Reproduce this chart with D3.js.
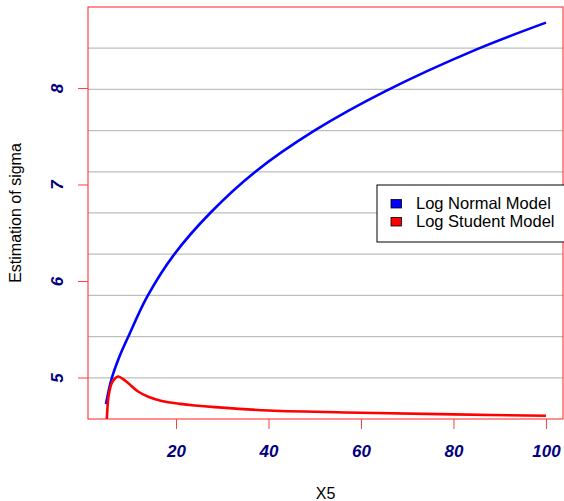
<!DOCTYPE html>
<html><head><meta charset="utf-8">
<script src="https://cdn.jsdelivr.net/npm/d3@7"></script>
<style>body{margin:0;background:#fff;overflow:hidden}</style>
</head><body>
<svg id="chart" width="564" height="501"></svg>
<script>
// ---- data ----
const xTicks = [20, 40, 60, 80, 100];
const yTicks = [5, 6, 7, 8];
const gridValues = [4.997, 5.424, 5.851, 6.278, 6.705, 7.131, 7.558, 7.985, 8.412];
const normalX = [4.86, 6.1, 7.8, 9.7, 13.8, 19.6, 27.5, 37.1, 50, 65.2, 85, 100];
const normalY = [4.725, 4.99, 5.22, 5.425, 5.84, 6.275, 6.71, 7.13, 7.56, 7.965, 8.40, 8.677];
const studentX = [4.86, 5.1, 5.4, 6.1, 6.8, 7.5, 8.5, 9.7, 11.8, 14, 16.9, 20.9, 24.1, 28.4, 40, 60, 80, 100];
const studentY = [4.45, 4.62, 4.80, 4.94, 4.99, 5.01, 4.985, 4.94, 4.855, 4.80, 4.757, 4.727, 4.71, 4.693, 4.658, 4.635, 4.618, 4.604];
const legendLabels = ["Log Normal Model", "Log Student Model"];
const seriesColors = ["#0000FF", "#FF0000"];
const xTitle = "X5";
const yTitle = "Estimation of sigma";

// ---- layout ----
const L = 88, R = 563, T = 7, B = 419;
const svg = d3.select("#chart");
const x = d3.scaleLinear().domain([0.973, 103.68]).range([L, R]);
const y = d3.scaleLinear().domain([4.570, 8.839]).range([B, T]);
const font = "'Liberation Sans', Arial, Helvetica, sans-serif";
const tickColor = "#000080";

svg.append("defs").append("clipPath").attr("id", "clip")
  .append("rect").attr("x", L).attr("y", T).attr("width", R - L).attr("height", B - T);

// grid
svg.append("g").selectAll("line").data(gridValues).join("line")
  .attr("x1", L).attr("x2", R)
  .attr("y1", d => y(d)).attr("y2", d => y(d))
  .attr("stroke", "#BEBEBE").attr("stroke-width", 1.3);

// series
const series = [
  {xs: normalX, ys: normalY, color: seriesColors[0]},
  {xs: studentX, ys: studentY, color: seriesColors[1]}
];
const line = d3.line().x(d => x(d[0])).y(d => y(d[1])).curve(d3.curveCatmullRom.alpha(0.5));
svg.append("g").attr("clip-path", "url(#clip)").selectAll("path").data(series).join("path")
  .attr("d", s => line(s.xs.map((v, i) => [v, s.ys[i]])))
  .attr("fill", "none").attr("stroke", s => s.color).attr("stroke-width", 2.6)
  .attr("stroke-linejoin", "round");

// box
svg.append("rect").attr("x", L).attr("y", T).attr("width", R - L).attr("height", B - T)
  .attr("fill", "none").attr("stroke", "#FF2020").attr("stroke-width", 1);

// x axis
const xAxis = svg.append("g").attr("transform", `translate(0,${B})`)
  .call(d3.axisBottom(x).tickValues(xTicks).tickSize(10).tickSizeOuter(0).tickPadding(16));
xAxis.select(".domain").remove();
xAxis.selectAll(".tick line").attr("stroke", "#FF4040");
xAxis.selectAll(".tick text").attr("fill", tickColor).attr("font-family", font)
  .attr("font-size", 17).attr("font-weight", "bold").attr("font-style", "italic");

// y axis
const yAxis = svg.append("g").attr("transform", `translate(${L},0)`)
  .call(d3.axisLeft(y).tickValues(yTicks).tickSize(10).tickSizeOuter(0).tickFormat(d3.format("d")));
yAxis.select(".domain").remove();
yAxis.selectAll(".tick line").attr("stroke", "#FF4040");
yAxis.selectAll(".tick text").remove();
yAxis.selectAll(".tick").append("text")
  .attr("transform", "translate(-25,0) rotate(-90)")
  .attr("text-anchor", "middle")
  .attr("fill", tickColor).attr("font-family", font)
  .attr("font-size", 17).attr("font-weight", "bold").attr("font-style", "italic")
  .text(d => d);

// titles
svg.append("text").attr("x", (L + R) / 2).attr("y", 499).attr("text-anchor", "middle")
  .attr("font-family", font).attr("font-size", 16).attr("fill", "#000").text(xTitle);
svg.append("text").attr("transform", `translate(20.5,${(T + B) / 2}) rotate(-90)`)
  .attr("text-anchor", "middle").attr("font-family", font).attr("font-size", 16)
  .attr("fill", "#000").text(yTitle);

// legend
const lg = svg.append("g");
lg.append("rect").attr("x", 377).attr("y", 185).attr("width", 200).attr("height", 57)
  .attr("fill", "#fff").attr("stroke", "#000").attr("stroke-width", 1);
const items = lg.selectAll("g.item").data(legendLabels).join("g").attr("class", "item")
  .attr("transform", (d, i) => `translate(0,${i * 18})`);
items.append("rect").attr("x", 391).attr("y", 199.5).attr("width", 10.5).attr("height", 8.5)
  .attr("fill", (d, i) => seriesColors[i]).attr("stroke", "#000").attr("stroke-width", 0.8);
items.append("text").attr("x", 416).attr("y", 209.3)
  .attr("font-family", font).attr("font-size", 16.5).attr("fill", "#000").text(d => d);
</script>
</body></html>
